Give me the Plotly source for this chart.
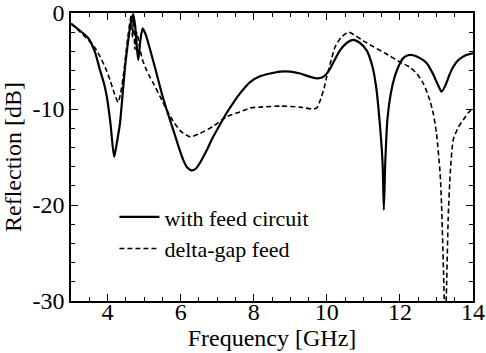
import plotly.graph_objects as go

# with feed circuit (solid)
f_feed = [3.0, 3.2, 3.47, 3.65, 3.79, 3.9, 3.98, 4.08, 4.18, 4.26, 4.34, 4.41, 4.48, 4.56, 4.63, 4.70,
          4.76, 4.80, 4.84, 4.90, 4.96, 5.04, 5.12, 5.25, 5.39, 5.5, 5.62, 5.80, 5.95, 6.07, 6.18, 6.30,
          6.42, 6.53, 6.7, 6.89, 7.08, 7.26, 7.45, 7.62, 7.90, 8.17, 8.45, 8.72, 9.0, 9.27, 9.5, 9.72,
          9.88, 10.04, 10.2, 10.36, 10.55, 10.72, 10.9, 11.09, 11.25, 11.36, 11.45, 11.50, 11.53, 11.56,
          11.60, 11.66, 11.75, 11.86, 11.97, 12.09, 12.22, 12.36, 12.55, 12.73, 12.9, 13.03, 13.14,
          13.25, 13.36, 13.46, 13.6, 13.8, 14.0]
s_feed = [-1.1, -1.7, -2.6, -4.0, -5.9, -7.3, -8.7, -11.5, -15.0, -13.4, -11.5, -8.6, -5.6, -3.0, -1.2, -0.1,
          -1.5, -3.5, -4.9, -2.8, -1.6, -2.2, -3.2, -5.0, -7.0, -8.6, -10.1, -12.2, -14.0, -15.3, -16.1, -16.4,
          -16.2, -15.6, -14.4, -12.9, -11.6, -10.4, -9.3, -8.4, -7.2, -6.6, -6.3, -6.1, -6.1, -6.3, -6.6, -6.8,
          -6.7, -6.1, -5.0, -3.9, -3.1, -2.8, -3.1, -3.9, -5.6, -8.0, -11.5, -14.0, -16.0, -20.5,
          -15.5, -11.0, -8.4, -6.6, -5.5, -4.7, -4.4, -4.4, -4.7, -5.2, -6.3, -7.4, -8.2,
          -7.5, -6.4, -5.6, -4.9, -4.4, -4.2]

# delta-gap feed (dashed)
f_delta = [3.0, 3.2, 3.47, 3.65, 3.79, 3.95, 4.07, 4.18, 4.29, 4.36, 4.43, 4.50, 4.57, 4.61, 4.65, 4.68,
           4.71, 4.75, 4.80, 4.88, 4.95, 5.05, 5.15, 5.25, 5.45, 5.62, 5.80, 6.0, 6.26, 6.5, 6.89, 7.26,
           7.62, 7.90, 8.17, 8.72, 9.27, 9.59, 9.72, 9.82, 9.92, 10.0, 10.12, 10.23, 10.4, 10.59, 10.8,
           11.0, 11.27, 11.6, 12.0, 12.25, 12.46, 12.65, 12.82, 12.92, 13.0, 13.10, 13.14, 13.19, 13.24,
           13.28, 13.32, 13.38, 13.46, 13.6, 13.74, 13.87, 14.0]
s_delta = [-1.1, -1.8, -2.8, -3.6, -4.5, -5.8, -7.0, -8.3, -9.3, -8.3, -6.6, -4.3, -2.1, -1.0, -0.2, -2.5,
           -0.3, -3.8, -2.0, -3.6, -4.8, -5.8, -6.6, -7.3, -8.8, -10.1, -11.3, -12.3, -12.9, -12.6, -11.8, -10.8,
           -10.3, -9.9, -9.8, -9.7, -9.8, -10.0, -9.9, -9.1, -7.9, -6.6, -4.9, -3.5, -2.5, -2.0, -2.4,
           -2.9, -3.5, -4.2, -5.1, -5.6, -6.3, -7.4, -9.1, -10.6, -12.5, -16.7, -20.0, -26.5, -33.0,
           -28.0, -21.5, -16.5, -13.2, -11.9, -11.1, -10.4, -9.9]

x_ticks = [4, 6, 8, 10, 12, 14]
y_ticks = [0, -10, -20, -30]
y_labels = ["0", "-10", "-20", "-30"]

font = "Times New Roman"
black = "black"

fig = go.Figure()
fig.add_trace(go.Scatter(x=f_feed, y=s_feed, mode="lines", name="with feed circuit",
                         line=dict(color=black, width=2.2, shape="spline", smoothing=0.6)))
fig.add_trace(go.Scatter(x=f_delta, y=s_delta, mode="lines", name="delta-gap feed",
                         line=dict(color=black, width=1.6, dash="5px,3px", shape="spline", smoothing=0.6)))

axis_common = dict(ticks="inside", ticklen=7, tickwidth=1, tickcolor=black,
                   showline=True, linecolor=black, linewidth=1.5, mirror="allticks",
                   showgrid=False, zeroline=False, automargin=False,
                   tickfont=dict(family=font, size=24, color=black))

fig.update_layout(
    width=486, height=353,
    margin=dict(l=71, r=13, t=13, b=52),
    paper_bgcolor="white", plot_bgcolor="white",
    font=dict(family=font, size=24, color=black),
    showlegend=True,
    legend=dict(x=0.108, y=0.364, xanchor="left", yanchor="top", bgcolor="rgba(0,0,0,0)",
                font=dict(size=22, family=font, color=black), tracegroupgap=0, itemwidth=40),
    xaxis=dict(range=[3, 14], tickvals=x_ticks, ticklabelstandoff=-12,
               title=dict(text="Frequency [GHz]", standoff=0, font=dict(family=font, size=24, color=black)),
               minor=dict(dtick=0.5, tick0=3, ticks="inside", ticklen=4, tickcolor=black, showgrid=False),
               **axis_common),
    yaxis=dict(range=[-30, 0], tickvals=y_ticks, ticktext=y_labels,
               title=dict(text="Reflection [dB]", standoff=4, font=dict(family=font, size=24, color=black)),
               minor=dict(dtick=2, tick0=0, ticks="inside", ticklen=4, tickcolor=black, showgrid=False),
               **axis_common),
)

fig.write_html("out.html")
